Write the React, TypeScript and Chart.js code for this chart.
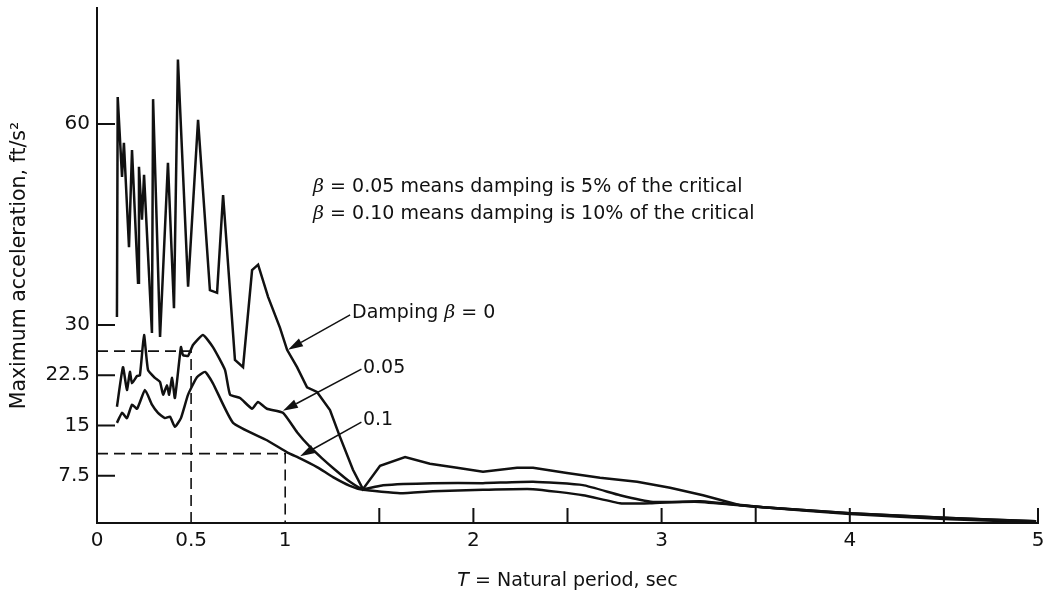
import React, { useEffect, useRef } from "react";
import { Chart, registerables } from "chart.js";

Chart.register(...registerables);

// ---- Data (T = natural period, sec ; A = maximum acceleration, ft/s^2) ----
const T_DAMP_0 = [0.106, 0.110, 0.133, 0.143, 0.170, 0.186, 0.218, 0.223, 0.239, 0.250, 0.292, 0.298, 0.335, 0.377, 0.409, 0.430, 0.484, 0.537, 0.600, 0.638, 0.670, 0.733, 0.776, 0.824, 0.856, 0.909, 0.972, 1.010, 1.063, 1.116, 1.169, 1.238, 1.291, 1.360, 1.413, 1.504, 1.637, 1.769, 1.913, 2.051, 2.232, 2.317, 2.497, 2.673, 2.870, 3.045, 3.220, 3.417, 3.539, 4.001, 4.532, 4.990];
const A_DAMP_0 = [31.2, 64.0, 52.1, 57.2, 41.6, 56.1, 36.3, 53.6, 45.7, 52.4, 28.8, 63.7, 28.2, 54.2, 32.5, 69.6, 35.7, 60.6, 35.2, 34.8, 49.4, 24.8, 23.7, 38.2, 39.0, 34.2, 29.6, 26.3, 23.7, 20.7, 20.0, 17.3, 13.3, 8.4, 5.5, 9.0, 10.3, 9.3, 8.7, 8.1, 8.7, 8.7, 7.9, 7.2, 6.6, 5.7, 4.6, 3.1, 2.8, 1.9, 1.2, 0.7];

const T_DAMP_005 = [0.106, 0.138, 0.159, 0.175, 0.186, 0.213, 0.228, 0.250, 0.271, 0.308, 0.335, 0.351, 0.372, 0.383, 0.399, 0.414, 0.446, 0.457, 0.484, 0.510, 0.563, 0.616, 0.680, 0.707, 0.760, 0.824, 0.855, 0.903, 0.988, 1.063, 1.132, 1.196, 1.265, 1.344, 1.413, 1.520, 1.785, 2.051, 2.317, 2.582, 2.779, 2.954, 3.204, 3.539, 4.001, 4.532, 4.990];
const A_DAMP_005 = [17.8, 23.7, 20.3, 23.0, 21.3, 22.4, 22.5, 28.5, 23.3, 22.1, 21.5, 19.6, 21.0, 19.6, 22.1, 19.1, 26.7, 25.5, 25.4, 27.0, 28.5, 26.7, 23.3, 19.6, 19.1, 17.5, 18.5, 17.5, 16.9, 14.0, 11.8, 10.1, 8.4, 6.6, 5.5, 6.1, 6.4, 6.4, 6.6, 6.1, 4.6, 3.6, 3.6, 2.8, 1.9, 1.2, 0.7];

const T_DAMP_01 = [0.106, 0.133, 0.159, 0.186, 0.213, 0.255, 0.292, 0.324, 0.361, 0.388, 0.414, 0.446, 0.484, 0.531, 0.574, 0.616, 0.723, 0.903, 1.010, 1.079, 1.169, 1.254, 1.344, 1.413, 1.610, 1.785, 2.051, 2.317, 2.582, 2.779, 2.938, 3.204, 3.539, 4.001, 4.532, 4.990];
const A_DAMP_01 = [15.4, 16.9, 16.1, 18.1, 17.5, 20.3, 18.1, 16.9, 16.1, 16.3, 14.8, 16.1, 19.6, 22.2, 23.0, 21.3, 15.4, 12.8, 11.0, 10.1, 8.8, 7.3, 6.0, 5.4, 4.9, 5.2, 5.4, 5.5, 4.6, 3.4, 3.4, 3.7, 2.8, 1.8, 1.0, 0.6];

// reference (dashed) readings
const REF_T = [0.5, 1.0];
const REF_A = [26.1, 10.8];

// axes
const X_TICKS = [0, 0.5, 1, 1.5, 2, 2.5, 3, 3.5, 4, 4.5, 5];
const X_LABELED = [0, 0.5, 1, 2, 3, 4, 5];
const X_TICK_MARKS = [1.5, 2, 2.5, 3, 3.5, 4, 4.5, 5];
const Y_TICKS = [7.5, 15, 22.5, 30, 60];
const Y_MIN = 0.45;
const Y_MAX = 77.3;

const INK = "#111";
const SANS = "'DejaVu Sans', 'Liberation Sans', sans-serif";
const SERIF = "'DejaVu Serif', 'Liberation Serif', serif";

type Part = [string, "plain" | "greek" | "italic"];

// annotations (data coordinates)
const NOTES: { T: number; A: number; parts: Part[] }[] = [
  { T: 1.148, A: 50.6, parts: [["β", "greek"], [" = 0.05 means damping is 5% of the critical", "plain"]] },
  { T: 1.148, A: 46.6, parts: [["β", "greek"], [" = 0.10 means damping is 10% of the critical", "plain"]] },
  { T: 1.355, A: 31.8, parts: [["Damping ", "plain"], ["β", "greek"], [" = 0", "plain"]] },
  { T: 1.413, A: 23.6, parts: [["0.05", "plain"]] },
  { T: 1.413, A: 15.8, parts: [["0.1", "plain"]] },
];

const ARROWS: { from: [number, number]; to: [number, number] }[] = [
  { from: [1.345, 31.5], to: [1.015, 26.3] },
  { from: [1.405, 23.4], to: [0.988, 17.2] },
  { from: [1.405, 15.5], to: [1.079, 10.4] },
];

const zip = (xs: number[], ys: number[]) => xs.map((x, i) => ({ x, y: ys[i] }));

function fontFor(kind: Part[1]) {
  if (kind === "greek") return `italic 19px ${SERIF}`;
  if (kind === "italic") return `italic 19px ${SANS}`;
  return `19px ${SANS}`;
}

function drawParts(ctx: CanvasRenderingContext2D, parts: Part[], x: number, y: number) {
  let cx = x;
  for (const [txt, kind] of parts) {
    ctx.font = fontFor(kind);
    ctx.fillText(txt, cx, y);
    cx += ctx.measureText(txt).width;
  }
}

function partsWidth(ctx: CanvasRenderingContext2D, parts: Part[]) {
  let w = 0;
  for (const [txt, kind] of parts) {
    ctx.font = fontFor(kind);
    w += ctx.measureText(txt).width;
  }
  return w;
}

const decorPlugin = {
  id: "decor",
  afterDraw(chart: any) {
    const { ctx, chartArea, scales } = chart;
    const xs = scales.x;
    const ys = scales.y;
    ctx.save();
    ctx.strokeStyle = INK;
    ctx.fillStyle = INK;

    // inward tick marks
    ctx.lineWidth = 2;
    ctx.beginPath();
    for (const v of Y_TICKS) {
      const py = ys.getPixelForValue(v);
      ctx.moveTo(chartArea.left, py);
      ctx.lineTo(chartArea.left + 18, py);
    }
    for (const v of X_TICK_MARKS) {
      const px = xs.getPixelForValue(v);
      ctx.moveTo(px, chartArea.bottom);
      ctx.lineTo(px, chartArea.bottom - 15);
    }
    ctx.stroke();

    // notes / labels
    ctx.textBaseline = "middle";
    ctx.textAlign = "left";
    for (const n of NOTES) {
      drawParts(ctx, n.parts, xs.getPixelForValue(n.T), ys.getPixelForValue(n.A));
    }

    // arrows
    ctx.lineWidth = 1.5;
    for (const a of ARROWS) {
      const fx = xs.getPixelForValue(a.from[0]);
      const fy = ys.getPixelForValue(a.from[1]);
      const tx = xs.getPixelForValue(a.to[0]);
      const ty = ys.getPixelForValue(a.to[1]);
      const ang = Math.atan2(ty - fy, tx - fx);
      const L = 15;
      const W = 4.5;
      const bx = tx - L * Math.cos(ang);
      const by = ty - L * Math.sin(ang);
      ctx.beginPath();
      ctx.moveTo(fx, fy);
      ctx.lineTo(bx, by);
      ctx.stroke();
      ctx.beginPath();
      ctx.moveTo(tx, ty);
      ctx.lineTo(bx + W * Math.sin(ang), by - W * Math.cos(ang));
      ctx.lineTo(bx - W * Math.sin(ang), by + W * Math.cos(ang));
      ctx.closePath();
      ctx.fill();
    }

    // x-axis title with italic T
    const title: Part[] = [["T", "italic"], [" = Natural period, sec", "plain"]];
    const w = partsWidth(ctx, title);
    const cx = (chartArea.left + chartArea.right) / 2;
    drawParts(ctx, title, cx - w / 2, chart.height - 18);

    ctx.restore();
  },
};

export default function App() {
  const ref = useRef<HTMLCanvasElement | null>(null);

  useEffect(() => {
    if (!ref.current) return;
    const lineStyle = {
      showLine: true,
      borderColor: INK,
      pointRadius: 0,
      pointHoverRadius: 0,
      fill: false,
    };
    const dashStyle = {
      ...lineStyle,
      borderWidth: 1.6,
      borderDash: [11, 6],
      tension: 0,
    };
    const chart = new Chart(ref.current, {
      type: "scatter",
      data: {
        datasets: [
          { ...lineStyle, label: "β = 0", data: zip(T_DAMP_0, A_DAMP_0), borderWidth: 2.5, tension: 0 },
          { ...lineStyle, label: "β = 0.05", data: zip(T_DAMP_005, A_DAMP_005), borderWidth: 2.5, tension: 0.15 },
          { ...lineStyle, label: "β = 0.1", data: zip(T_DAMP_01, A_DAMP_01), borderWidth: 2.5, tension: 0.15 },
          { ...dashStyle, label: "ref 0.05", data: [{ x: 0, y: REF_A[0] }, { x: REF_T[0], y: REF_A[0] }, { x: REF_T[0], y: Y_MIN }] },
          { ...dashStyle, label: "ref 0.1", data: [{ x: 0, y: REF_A[1] }, { x: REF_T[1], y: REF_A[1] }, { x: REF_T[1], y: Y_MIN }] },
        ],
      },
      options: {
        animation: false,
        responsive: false,
        events: [],
        layout: { padding: { top: 8, right: 15, left: 0, bottom: 0 } },
        plugins: { legend: { display: false }, tooltip: { enabled: false } },
        scales: {
          x: {
            type: "linear",
            min: 0,
            max: 5,
            afterBuildTicks: (s: any) => {
              s.ticks = X_TICKS.map((v) => ({ value: v }));
            },
            afterFit: (s: any) => {
              s.height = 76;
              s.paddingLeft = 0;
              s.paddingRight = 0;
            },
            grid: { display: true, drawOnChartArea: false, drawTicks: false },
            border: { display: true, color: INK, width: 2 },
            ticks: {
              autoSkip: false,
              maxRotation: 0,
              padding: 6,
              color: INK,
              font: { family: SANS, size: 20 },
              callback: (v: any) => (X_LABELED.includes(Number(v)) ? String(v) : ""),
            },
          },
          y: {
            type: "linear",
            min: Y_MIN,
            max: Y_MAX,
            afterBuildTicks: (s: any) => {
              s.ticks = Y_TICKS.map((v) => ({ value: v }));
            },
            afterFit: (s: any) => {
              s.width = 97;
              s.paddingTop = 0;
              s.paddingBottom = 0;
            },
            grid: { display: true, drawOnChartArea: false, drawTicks: false },
            border: { display: true, color: INK, width: 2 },
            ticks: {
              autoSkip: false,
              padding: 7,
              color: INK,
              font: { family: SANS, size: 20 },
              callback: (v: any) => String(v),
            },
            title: {
              display: true,
              text: "Maximum acceleration, ft/s²",
              color: INK,
              font: { family: SANS, size: 20.5 },
              padding: { top: 7, bottom: 0 },
            },
          },
        },
      },
      plugins: [decorPlugin],
    } as any);
    return () => chart.destroy();
  }, []);

  return (
    <div style={{ position: "fixed", left: 0, top: 0, width: 1053, height: 599, background: "#fff" }}>
      <canvas ref={ref} width={1053} height={599} style={{ display: "block", width: 1053, height: 599 }} />
    </div>
  );
}
